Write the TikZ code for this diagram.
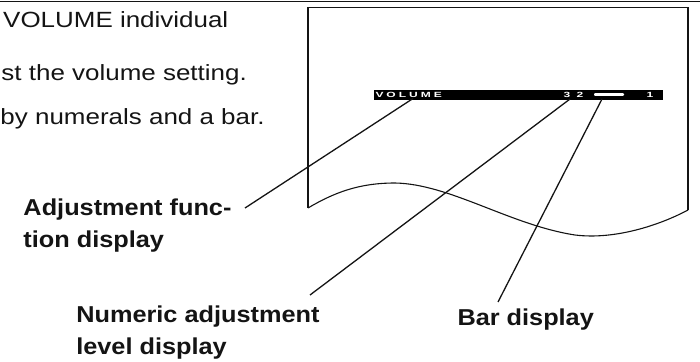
\documentclass[tikz,border=0pt]{standalone}
\usepackage{fontspec}
\setmainfont{Liberation Sans}[FakeStretch=1.1]
\newfontfamily\bodyfont{Liberation Sans}[FakeStretch=1.18]
\newfontfamily\lcdfont{Liberation Sans}[FakeStretch=1.6,LetterSpace=40]
\usetikzlibrary{positioning}
\definecolor{ink}{RGB}{20,20,20}
\tikzset{
  every picture/.style={color=ink, line width=1pt},
  body/.style={font=\bodyfont\fontsize{22}{26}\selectfont, inner sep=0pt},
  lbl/.style={font=\fontsize{23}{32}\selectfont\bfseries, align=left, inner sep=0pt},
  lcd/.style={font=\lcdfont\fontsize{7.5}{8}\selectfont\bfseries, text=white, inner sep=0pt},
  frame/.style={line width=1.1pt},
  leader/.style={line width=1.3pt},
  rule/.style={line width=1.6pt},
}

\begin{document}
\begin{tikzpicture}[x=1pt, y=-1pt]
  \useasboundingbox (0,0) rectangle (700,361);
  % rule along the top of the page
  \coordinate (ruleL) at (0,1.5);
  \coordinate (ruleR) at (700,1.5);
  \draw[rule] (ruleL) -- (ruleR);
  % text of the page, cut at its left side
  \node[body, anchor=base west] (t1) at (2.7,28) {VOLUME individual};
  \node[body, anchor=base west] (t2) at (1,80) {st the volume setting.};
  \node[body, anchor=base west] (t3) at (0,124) {by numerals and a bar.};
  % screen, torn off along its lower side
  \coordinate (scrBL) at (308,208);
  \coordinate (scrTL) at (308,7.5);
  \coordinate (scrTR) at (688,7.5);
  \coordinate (scrBR) at (688,210);
  \draw[frame] (scrBL) -- (scrTL) -- (scrTR) -- (scrBR);
  \draw[frame] (scrBL) .. controls (335,192) and (360,183) .. (395,183)
    .. controls (450,184) and (510,225) .. (575,235)
    .. controls (615,240) and (660,225) .. (scrBR);
  % VOLUME bar on the screen
  \node[fill=black, minimum width=289pt, minimum height=9.5pt, inner sep=0pt, anchor=north west] (vbar) at (373,89.5) {};
  \node[lcd, anchor=west] (fn) at (375,94.5) {VOLUME};
  \node[lcd, anchor=west] (lvl) at (563,94.5) {3 2};
  \node[fill=white, rounded corners=1pt, minimum width=30pt, minimum height=2.6pt, inner sep=0pt] (gauge) at (609,94.5) {};
  \node[lcd, anchor=west] (one) at (646,94.5) {1};
  % labels and leaders
  \node[lbl, anchor=north east] (adj) at (232,198) {Adjustment func-\\tion display};
  \node[lbl, anchor=north east] (num) at (320,305) {Numeric adjustment\\level display};
  \node[lbl, anchor=base west] (bard) at (457,325) {Bar display};
  \coordinate (adjtip) at (245,208);
  \coordinate (numtip) at (310,295);
  \coordinate (bartip) at (498,302);
  \coordinate (fnpt) at (413,98.5);
  \coordinate (lvlpt) at (570,99);
  \coordinate (gaugept) at (602,99);
  \draw[leader] (adjtip) -- (fnpt);
  \draw[leader] (numtip) -- (lvlpt);
  \draw[leader] (bartip) -- (gaugept);
\end{tikzpicture}
\end{document}
